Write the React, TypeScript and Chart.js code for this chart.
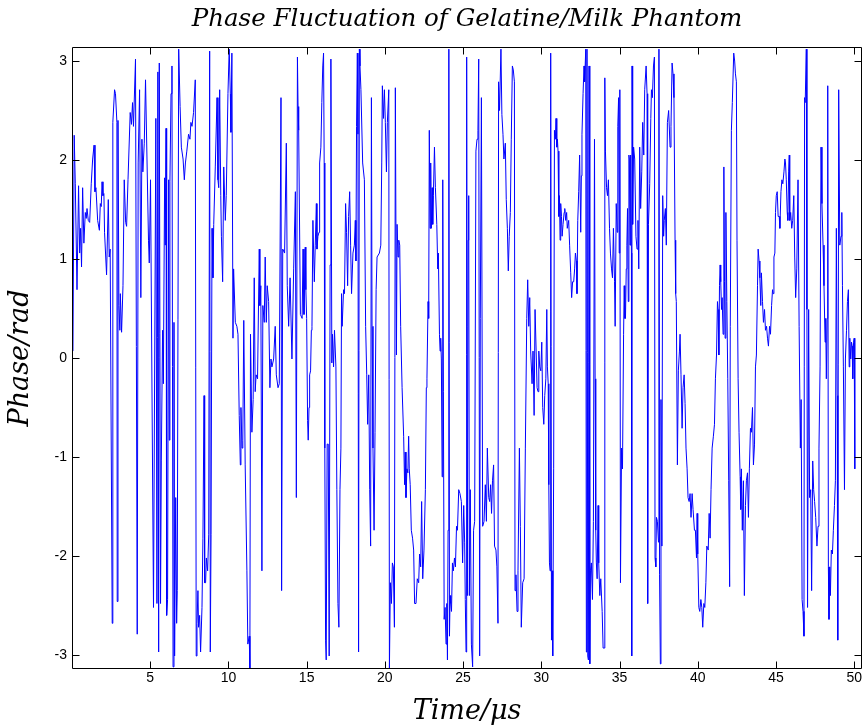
import React, { useEffect, useRef } from "react";
import { Chart, registerables } from "chart.js";

Chart.register(...registerables);

// ---- Data ----
const time00to10 = [
  0.06, 0.14, 0.21, 0.32, 0.42, 0.49, 0.55, 0.61, 0.68, 0.76, 0.85, 0.91, 0.96, 1.04, 1.13, 1.23, 1.32, 1.41, 1.47, 1.53,
  1.64, 1.75, 1.81, 1.87, 1.92, 1.98, 2.04, 2.08, 2.21, 2.32, 2.38, 2.44, 2.57, 2.61, 2.72, 2.78, 2.87, 2.89, 2.94, 3.0,
  3.06, 3.09, 3.17, 3.26, 3.34, 3.43, 3.49, 3.58, 3.72, 3.8, 3.87, 3.93, 4.06, 4.17, 4.23, 4.32, 4.4, 4.47, 4.53, 4.62,
  4.7, 4.89, 4.94, 5.02, 5.21, 5.36, 5.43, 5.49, 5.54, 5.58, 5.66, 5.71, 5.79, 5.84, 5.92, 5.96, 6.01, 6.05, 6.11, 6.18,
  6.22, 6.26, 6.33, 6.39, 6.46, 6.52, 6.56, 6.63, 6.69, 6.73, 6.82, 6.91, 6.99, 7.1, 7.18, 7.25, 7.34, 7.45, 7.54, 7.6,
  7.67, 7.77, 7.88, 7.94, 7.99, 8.05, 8.09, 8.16, 8.22, 8.31, 8.37, 8.44, 8.48, 8.54, 8.59, 8.67, 8.74, 8.8, 8.84, 8.89,
  8.95, 9.01, 9.06, 9.16, 9.27, 9.33, 9.38, 9.44, 9.51, 9.55, 9.63, 9.7,
];
const phase00to10 = [
  0.07, 2.25, 1.76, 0.69, 1.74, 1.06, 1.31, 0.92, 1.72, 1.16, 1.47, 1.41, 1.51, 1.39, 1.37, 1.76, 2.01, 2.15, 1.68, 1.72,
  1.39, 1.29, 1.56, 1.53, 1.78, 1.64, 1.66, 1.27, 0.84, 1.6, 1.02, 1.1, -2.68, 2.38, 2.71, 2.67, 2.38, -2.46, 2.4, 0.53,
  0.28, 0.65, 0.26, 0.73, 1.8, 1.37, 1.33, 1.8, 2.48, 2.36, 2.58, 2.34, 3.02, -2.79, 1.97, 2.71, 0.61, 2.21, 1.88, 2.17,
  2.81, 1.19, 0.96, 1.8, -2.52, 2.42, -2.48, 2.89, -2.97, 2.98, -2.48, -1.04, 0.28, -0.26, 1.82, 1.14, 2.32, -2.6, -2.44, 1.8,
  -0.83, 1.78, 2.67, 2.95, -3.12, 0.36, -3.01, -1.41, -2.68, -2.35, 3.12, 2.54, 2.13, 2.01, 1.8, 1.97, 2.09, 2.26, 2.21, 2.38,
  2.34, 2.48, 2.81, -3.01, -2.68, -2.35, -2.72, -2.6, -2.97, -2.52, -1.82, -0.38, -2.27, -2.27, -2.02, -2.15, -1.78, 3.1, -2.97, -1.78,
  1.31, 0.81, 1.35, 1.93, 2.63, 1.8, 1.72, 2.71, 1.64, 1.23, 0.77, 1.93,
];

const time10to20 = [
  9.8, 9.86, 9.97, 10.05, 10.12, 10.16, 10.22, 10.29, 10.33, 10.44, 10.54, 10.61, 10.69, 10.76, 10.8, 10.87, 10.92, 10.98, 11.07, 11.18,
  11.24, 11.33, 11.37, 11.41, 11.5, 11.58, 11.65, 11.71, 11.77, 11.86, 11.97, 12.01, 12.07, 12.14, 12.2, 12.29, 12.35, 12.42, 12.48, 12.57,
  12.65, 12.72, 12.78, 12.89, 12.99, 13.06, 13.17, 13.25, 13.36, 13.4, 13.47, 13.59, 13.7, 13.76, 13.85, 13.94, 14.06, 14.17, 14.28, 14.34,
  14.41, 14.45, 14.49, 14.6, 14.71, 14.77, 14.83,
  14.91, 14.95, 15.0, 15.06, 15.1, 15.15, 15.19, 15.25, 15.3, 15.34, 15.4, 15.49, 15.55, 15.62, 15.66, 15.72, 15.79, 15.83, 15.91, 15.97,
  16.03, 16.08, 16.12, 16.16, 16.21, 16.25, 16.31, 16.38, 16.44, 16.5, 16.55, 16.61, 16.65, 16.72, 16.78, 16.87, 16.93, 17.0, 17.06, 17.13,
  17.19, 17.23, 17.27, 17.36, 17.42, 17.49, 17.55, 17.62, 17.68, 17.75, 17.81, 17.87, 17.96, 18.05, 18.11, 18.15, 18.19, 18.24, 18.28, 18.32,
  18.37, 18.41, 18.47, 18.58, 18.69, 18.77, 18.84, 18.9, 18.97, 19.03, 19.09, 19.14, 19.18, 19.24, 19.31, 19.37, 19.44, 19.5, 19.56, 19.65,
  19.74, 19.8, 19.84, 19.91, 19.97,
];
const phase10to20 = [
  1.39, 1.64, 2.67, 3.12, 2.67, 2.28, 3.08, 0.2, 0.9, 0.36, 0.32, 0.24, -0.58, -1.08, -0.5, -0.91, -0.83, 0.38, -1.08, -2.15,
  -2.89, -2.81, -3.14, 0.24, -0.75, -0.42, 0.81, -0.34, -0.17, -0.21, 1.1, 0.53, 0.73, -2.15, 0.53, 0.36, 1.02, 0.36, 0.73, 0.57,
  -0.3, -0.01, -0.09, -0.01, 0.32, -0.17, -0.3, -0.26, 2.63, -2.35, 1.1, 1.06, 2.17, 0.73, 0.32, 0.81, -0.01, 0.9, 1.68, -1.41,
  3.04, 2.54, 2.3, 0.44, 0.4, 1.1, 0.44,
  1.12, 0.69, 0.4, -0.63, -0.83, -0.5, -0.17, -0.13, 0.28, 0.32, 1.39, 0.77, 1.14, 1.56, 1.1, 1.23, 1.27, 1.97, 2.13, 2.58,
  2.95, 3.08, 1.97, -0.91, -2.85, -3.05, -0.87, -0.87, -3.01, 0.94, 3.02, -0.05, 0.24, -0.09, 0.28, -0.09, -1.33, -2.48, -2.72, -1.33,
  -0.91, 0.65, 0.32, 0.69, 0.65, 1.56, 1.27, 0.73, 1.43, 1.68, 1.14, 0.65, 1.06, 1.14, 1.39, 0.98, 2.34, 3.08, 2.26, -2.97,
  3.12, 2.95, 2.71, 1.97, 1.8, 0.32, -0.17, -0.67, -0.17, -1.33, -1.9, 2.63, 0.32, -0.91, -1.74, -0.75, 0.69, 1.02, 1.02, 1.06,
  1.14, 1.97, 2.75, 2.42, 2.71,
];

const time20to30 = [
  20.03, 20.1, 20.16, 20.25, 20.29, 20.35, 20.42, 20.48, 20.54, 20.61, 20.67, 20.74, 20.78, 20.84, 20.89, 20.95, 21.01, 21.1, 21.2, 21.26,
  21.3, 21.35, 21.41, 21.47, 21.52, 21.56, 21.62, 21.69, 21.77, 21.84, 21.9, 21.99, 22.07, 22.16, 22.22, 22.29, 22.35, 22.42, 22.5, 22.59,
  22.65, 22.69, 22.76, 22.8, 22.84, 22.89, 22.93, 22.97, 23.02, 23.06, 23.1, 23.17, 23.23, 23.32, 23.38, 23.42, 23.49, 23.53, 23.57, 23.61,
  23.66, 23.7, 23.74, 23.79, 23.85, 23.91, 23.96, 24.0, 24.04, 24.09, 24.13, 24.17, 24.21, 24.26, 24.32, 24.38, 24.45, 24.51, 24.58, 24.64,
  24.72, 24.8, 24.89, 24.97, 25.04, 25.1, 25.14, 25.19, 25.23, 25.27, 25.32, 25.36,
  25.4, 25.46, 25.53, 25.61, 25.67, 25.74, 25.82, 25.89, 25.95, 26.0, 26.06, 26.1, 26.17, 26.25, 26.34, 26.42, 26.49, 26.55, 26.64, 26.7,
  26.76, 26.82, 26.88, 26.95, 27.01, 27.1, 27.16, 27.23, 27.27, 27.33, 27.42, 27.48, 27.55, 27.61, 27.7, 27.76, 27.83, 27.89, 27.95, 28.02,
  28.08, 28.15, 28.21, 28.28, 28.32, 28.38, 28.45, 28.51, 28.6, 28.66, 28.72, 28.81, 28.9, 28.98, 29.07, 29.13, 29.2, 29.26, 29.32, 29.41,
  29.47, 29.54, 29.6, 29.67, 29.73, 29.79, 29.84, 29.9, 29.97,
];
const phase20to30 = [
  2.38, 1.88, 2.38, 2.71, -3.14, -2.27, -2.48, -2.07, -2.11, -2.72, 2.73, 0.03, 1.35, 1.02, 1.19, 1.14, 0.32, -0.3, -0.79, -1.28,
  -0.95, -1.41, -1.12, -1.16, -0.79, -1.12, -1.28, -1.74, -1.82, -1.94, -2.48, -2.48, -2.23, -2.27, -1.98, -2.11, -1.45, -2.23, -1.94, -1.33,
  -0.3, -0.21, 0.57, 0.4, 2.3, 1.31, 1.97, 1.31, 1.72, 1.35, 1.64, 2.13, 1.72, 1.35, 0.9, 1.06, 0.24, 0.07, 0.2, -0.01,
  -1.2, 1.8, -0.34, -2.64, -2.52, -2.89, -2.48, -3.05, -1.74, 3.12, -2.81, -2.4, -2.48, -2.56, -2.07, -2.15, -2.02, -2.11, -1.7, -1.74,
  -1.33, -1.37, -1.45, -2.07, -1.49, -1.86, -2.44, -2.97, 3.04, -2.4, 1.19, 1.64,
  -2.4, -1.33, -2.89, -3.12, -1.74, -1.65, 2.09, 2.21, 2.3, 3.02, -3.01, 0.4, 2.63, -1.7, -1.65, -1.28, -1.65, -0.91, -1.41, -1.45,
  -1.28, -1.57, -1.24, -1.08, -1.9, -1.94, -2.11, -2.68, 2.79, 2.5, 3.12, 2.46, 2.26, 2.01, 2.17, 1.6, 1.31, 0.88, 1.23, 1.47,
  2.21, 2.95, 2.91, 2.79, -2.35, -2.19, -2.56, -2.15, -0.91, -1.7, -2.72, -2.27, -2.23, -0.91, 0.4, 0.79, 0.32, 0.61, 0.07, -0.26,
  0.07, -0.58, 0.49, 0.07, -0.3, -0.34, 0.07, -0.09, -0.13,
];

const time30to40 = [
  30.03, 30.09, 30.16, 30.22, 30.29, 30.35, 30.39, 30.44, 30.48,
  30.52, 30.56, 30.6, 30.65, 30.69, 30.73, 30.79, 30.84, 30.9, 30.94, 30.99, 31.03, 31.07, 31.12, 31.16, 31.2, 31.24, 31.29, 31.33, 31.39,
  31.46, 31.5, 31.56, 31.62, 31.66, 31.75, 31.81, 31.88, 31.94, 32.0, 32.07, 32.13, 32.18, 32.24, 32.28, 32.33, 32.39, 32.45, 32.52, 32.56,
  32.6, 32.67, 32.73, 32.77, 32.84, 32.88, 32.92, 32.97, 33.01, 33.05, 33.1, 33.14, 33.2, 33.27, 33.33, 33.4, 33.44, 33.48, 33.52, 33.57,
  33.63, 33.67, 33.74, 33.8, 33.89, 33.95, 34.02, 34.06, 34.1, 34.17, 34.23, 34.29, 34.36, 34.42, 34.49, 34.55, 34.61, 34.68, 34.72, 34.79,
  34.85, 34.89, 34.94, 34.98, 35.02, 35.06, 35.13, 35.19, 35.26, 35.3, 35.34, 35.38, 35.43, 35.47, 35.51, 35.56, 35.6,
  35.63, 35.67, 35.71, 35.76, 35.78, 35.8, 35.84, 35.9, 35.97, 36.05, 36.12, 36.18, 36.23, 36.29, 36.35, 36.42, 36.48, 36.55, 36.61, 36.7,
  36.76, 36.8, 36.85, 36.93, 37.0, 37.04, 37.1, 37.17, 37.23, 37.27, 37.32, 37.36, 37.42, 37.49, 37.52, 37.56, 37.61, 37.65, 37.71, 37.76,
  37.82, 37.86, 37.93, 37.99, 38.06, 38.14, 38.23, 38.29, 38.36, 38.42, 38.48, 38.55, 38.59, 38.63, 38.7, 38.76, 38.83, 38.87, 38.93, 39.0,
  39.06, 39.13, 39.19, 39.25, 39.32, 39.38, 39.45, 39.51, 39.57, 39.64, 39.7, 39.79, 39.85, 39.92, 39.96,
];
const phase30to40 = [
  0.16, -0.5, -0.67, -0.38, -0.21, 0.49, -0.09, -0.26, -1.28,
  -2.07, -2.15, 3.08, -2.85, -2.15, -3.01, -1.12, 2.3, 2.21, 2.42, 2.13, 2.21, 2.09, 1.43, 1.64, 1.19, 1.56, 1.43, 1.23, 1.35,
  1.47, 1.51, 1.39, 1.47, 1.31, 1.39, 1.14, 0.86, 0.61, 0.77, 0.77, 0.9, 1.06, 0.98, 0.65, 1.39, 1.68, 2.05, 1.27, 1.84,
  2.26, 2.67, 2.95, 2.79, 3.12, -2.97, 3.12, -3.01, -3.05, 2.95, -3.09, -2.15, -2.07, -2.44, -1.65, 2.21, -0.21, -1.74, -2.07, -2.23,
  -1.49, -2.07, -2.4, -2.23, -2.56, -2.93, -2.93, 2.83, 2.09, 1.72, 1.64, 1.8, 1.31, 1.06, 0.9, 0.81, 1.31, 0.77, 0.32, 1.56,
  1.27, 2.34, 2.63, 1.06, 2.71, -2.27, -0.91, -1.12, 0.24, 0.73, 0.4, 0.4, 0.9, 1.14, 1.51, 0.57, 2.05,
  2.01, 1.14, 2.05, 1.06, -3.01, 2.95, 1.35, 2.13, 2.01, 1.23, 1.1, 1.39, 0.9, 2.13, 1.51, 1.88, 2.38, 2.05, 2.71, 2.95,
  2.67, -2.48, 1.35, 1.76, 2.42, 2.71, 2.63, 2.95, 3.04, -2.02, -2.11, -1.61, -1.65, -1.86, 3.12, -2.19, -3.09, -0.42, -1.9, 1.64,
  1.23, 1.39, 1.51, 1.14, 2.38, 2.5, 2.13, 2.34, 2.98, 2.87, 2.63, 1.19, 0.65, 0.57, -1.08, -0.13, 0.07, 0.24, -0.17, -0.71,
  -0.3, -0.17, -0.46, -0.91, -1.12, -1.41, -1.45, -1.37, -1.61, -1.37, -1.53, -1.74, -1.74, -2.02, -1.57,
];

const time40to50 = [
  40.0, 40.07, 40.13, 40.2, 40.26, 40.32, 40.39, 40.45, 40.52, 40.58, 40.67, 40.73,
  40.79, 40.85, 40.92, 41.0, 41.07, 41.13, 41.2, 41.26, 41.3, 41.35, 41.39, 41.43, 41.47, 41.52, 41.56, 41.62, 41.67, 41.71,
  41.75, 41.8, 41.86, 41.92, 41.98, 42.04, 42.08, 42.15, 42.21, 42.3, 42.36, 42.41, 42.47, 42.51, 42.58, 42.64, 42.71, 42.75, 42.79, 42.85,
  42.92, 42.98, 43.05, 43.11, 43.18, 43.24, 43.3, 43.37, 43.43, 43.5, 43.56, 43.63, 43.69, 43.75, 43.82, 43.86, 43.92, 43.97, 44.03, 44.07,
  44.14, 44.2, 44.27, 44.33, 44.4, 44.46, 44.52, 44.59, 44.65, 44.72, 44.78, 44.82, 44.87, 44.93, 44.97, 45.02, 45.08, 45.14, 45.21, 45.25,
  45.32, 45.38, 45.44, 45.51, 45.57, 45.61, 45.66, 45.72, 45.76, 45.81, 45.85,
  45.88, 45.94, 46.01, 46.07, 46.14, 46.2, 46.26, 46.33, 46.41, 46.48, 46.56, 46.61, 46.67, 46.73, 46.79, 46.83, 46.87, 46.94, 46.98, 47.02,
  47.09, 47.15, 47.22, 47.28, 47.35, 47.41, 47.47, 47.54, 47.62, 47.69, 47.75, 47.82, 47.88, 47.94, 48.01, 48.07, 48.14, 48.18, 48.22, 48.27,
  48.31, 48.35, 48.39, 48.44, 48.48, 48.54, 48.61, 48.67, 48.74, 48.8, 48.86, 48.91, 48.95, 49.01, 49.08, 49.16, 49.21, 49.25, 49.31, 49.38,
  49.44, 49.51, 49.57, 49.63, 49.68, 49.72, 49.78, 49.83, 49.87, 49.91, 49.96, 50.0, 50.04,
];
const phase40to50 = [
  -1.98, -2.52, -2.56, -2.44, -2.52, -2.72, -2.48, -2.52, -2.27, -1.9, -1.94, -1.57,
  -1.82, -1.33, -0.91, -0.79, -0.67, -0.21, 0.03, 0.57, 0.49, 0.03, 0.73, 0.94, 0.77, 0.49, 0.61, 0.24, 1.93, 0.77,
  0.2, 1.47, 0.57, -0.21, -1.24, -2.31, 0.32, 2.3, 2.58, 3.08, 3.0, 2.87, 2.79, 1.19, -0.21, -0.75, -1.2, -1.53, -1.12, -1.74,
  -1.24, -2.4, -1.49, -1.24, -1.16, -1.61, -1.12, -0.71, -0.75, -0.5, -1.08, -0.87, -0.09, 0.03, 0.73, 1.1, 0.98, 0.81, 0.53, 0.86,
  0.57, 0.36, 0.49, 0.28, 0.32, 0.2, 0.12, 0.32, 0.24, 0.53, 0.69, 0.65, 1.02, 1.06, 1.47, 1.64, 1.68, 1.43, 1.43, 1.31,
  1.68, 1.8, 1.76, 1.88, 2.01, 1.97, 1.8, 1.47, 1.39, 1.88, 2.05,
  1.39, 1.47, 1.31, 1.39, 1.64, 1.02, 0.61, 0.9, 1.8, 0.32, -0.91, -0.42, -2.44, -2.56, -2.81, 2.63, 2.58, 3.12, 0.49, -2.52,
  0.49, -1.41, -1.33, -2.35, -1.04, -1.33, -1.45, -1.61, -1.9, -1.7, -0.91, -0.09, 2.13, 1.56, 1.14, 0.73, 0.16, 0.4, -0.21, 0.4,
  2.75, -2.11, -2.64, -2.11, -2.4, -1.94, -1.98, -1.74, -1.49, -1.24, 1.31, -0.38, -2.85, 2.71, 1.14, 1.23, 1.47, 0.73, -0.09, -1.33,
  -0.01, 0.28, 0.57, 0.69, -0.09, 0.2, -0.01, 0.16, 0.12, -0.21, 0.16, 0.2, -1.12,
];

const xTickValues = [5, 10, 15, 20, 25, 30, 35, 40, 45, 50];
const yTickValues = [-3, -2, -1, 0, 1, 2, 3];
const chartTitle = "Phase Fluctuation of Gelatine/Milk Phantom";
const xAxisLabel = "Time/\u03bcs";
const yAxisLabel = "Phase/rad";
const xMin = 0;
const xMax = 50.5;
const yMin = -Math.PI;
const yMax = Math.PI;

const segments: [number[], number[]][] = [
  [time00to10, phase00to10],
  [time10to20, phase10to20],
  [time20to30, phase20to30],
  [time30to40, phase30to40],
  [time40to50, phase40to50],
];

function buildPoints() {
  const pts: { x: number; y: number }[] = [];
  for (const [t, p] of segments) {
    const n = Math.min(t.length, p.length);
    for (let i = 0; i < n; i++) pts.push({ x: t[i], y: p[i] });
  }
  return pts;
}

const TICK_LEN = 7;

const framePlugin = {
  id: "matlabFrame",
  afterDatasetsDraw(chart: any) {
    const { ctx, chartArea: a, scales } = chart;
    const xs = scales.x;
    const ys = scales.y;
    ctx.save();
    ctx.strokeStyle = "#000";
    ctx.lineWidth = 1;
    const L = Math.round(a.left) + 0.5;
    const R = Math.round(a.right) - 0.5;
    const T = Math.round(a.top) + 0.5;
    const B = Math.round(a.bottom) - 0.5;
    ctx.beginPath();
    ctx.rect(L, T, R - L, B - T);
    for (const v of xTickValues) {
      const px = Math.round(xs.getPixelForValue(v)) + 0.5;
      ctx.moveTo(px, B);
      ctx.lineTo(px, B - TICK_LEN);
      ctx.moveTo(px, T);
      ctx.lineTo(px, T + TICK_LEN);
    }
    for (const v of yTickValues) {
      const py = Math.round(ys.getPixelForValue(v)) + 0.5;
      ctx.moveTo(L, py);
      ctx.lineTo(L + TICK_LEN, py);
      ctx.moveTo(R, py);
      ctx.lineTo(R - TICK_LEN, py);
    }
    ctx.stroke();
    ctx.restore();
  },
};

const titlePlugin = {
  id: "centredTitle",
  afterDraw(chart: any) {
    const { ctx, chartArea: a } = chart;
    ctx.save();
    ctx.fillStyle = "#000";
    ctx.font = 'italic 24.5px "DejaVu Serif"';
    ctx.textAlign = "center";
    ctx.textBaseline = "middle";
    ctx.fillText(chartTitle, (a.left + a.right) / 2, 20);
    ctx.restore();
  },
};

export default function App() {
  const canvasRef = useRef<HTMLCanvasElement | null>(null);

  useEffect(() => {
    const canvas = canvasRef.current;
    if (!canvas) return;
    const tickFont = { family: '"Liberation Sans", Arial, sans-serif', size: 14 };
    const axisTitleFont = { family: '"DejaVu Serif", serif', style: "italic" as const, size: 27 };
    const chart = new Chart(canvas, {
      type: "line",
      data: {
        datasets: [
          {
            data: buildPoints(),
            borderColor: "#0000ff",
            backgroundColor: "#0000ff",
            borderWidth: 1,
            pointRadius: 0,
            pointHoverRadius: 0,
            fill: false,
            tension: 0,
          },
        ],
      },
      options: {
        responsive: false,
        animation: false,
        devicePixelRatio: 1,
        events: [],
        layout: { padding: { top: 47, right: 4, left: 0, bottom: 0 } },
        plugins: {
          legend: { display: false },
          tooltip: { enabled: false },
          title: { display: false },
        },
        scales: {
          x: {
            type: "linear",
            min: xMin,
            max: xMax,
            afterBuildTicks: (s: any) => {
              s.ticks = xTickValues.map((v) => ({ value: v }));
            },
            afterFit: (s: any) => {
              s.height = 59;
            },
            grid: { display: false, drawTicks: false },
            border: { display: false },
            ticks: {
              color: "#000",
              font: tickFont,
              padding: 1,
              maxRotation: 0,
              autoSkip: false,
              callback: (v: any) => String(v),
            },
            title: {
              display: true,
              text: xAxisLabel,
              color: "#000",
              font: axisTitleFont,
              padding: { top: 0, bottom: 0 },
            },
          },
          y: {
            type: "linear",
            min: yMin,
            max: yMax,
            afterBuildTicks: (s: any) => {
              s.ticks = yTickValues.map((v) => ({ value: v }));
            },
            afterFit: (s: any) => {
              s.width = 72;
            },
            grid: { display: false, drawTicks: false },
            border: { display: false },
            ticks: {
              color: "#000",
              font: tickFont,
              padding: 5,
              autoSkip: false,
              callback: (v: any) => String(v),
            },
            title: {
              display: true,
              text: yAxisLabel,
              color: "#000",
              font: axisTitleFont,
              padding: { top: 5, bottom: 0 },
            },
          },
        },
      },
      plugins: [framePlugin, titlePlugin],
    } as any);
    return () => chart.destroy();
  }, []);

  return (
    <div style={{ position: "fixed", left: 0, top: 0, width: 866, height: 728, background: "#fff" }}>
      <canvas ref={canvasRef} width={866} height={728} style={{ display: "block" }} />
    </div>
  );
}
